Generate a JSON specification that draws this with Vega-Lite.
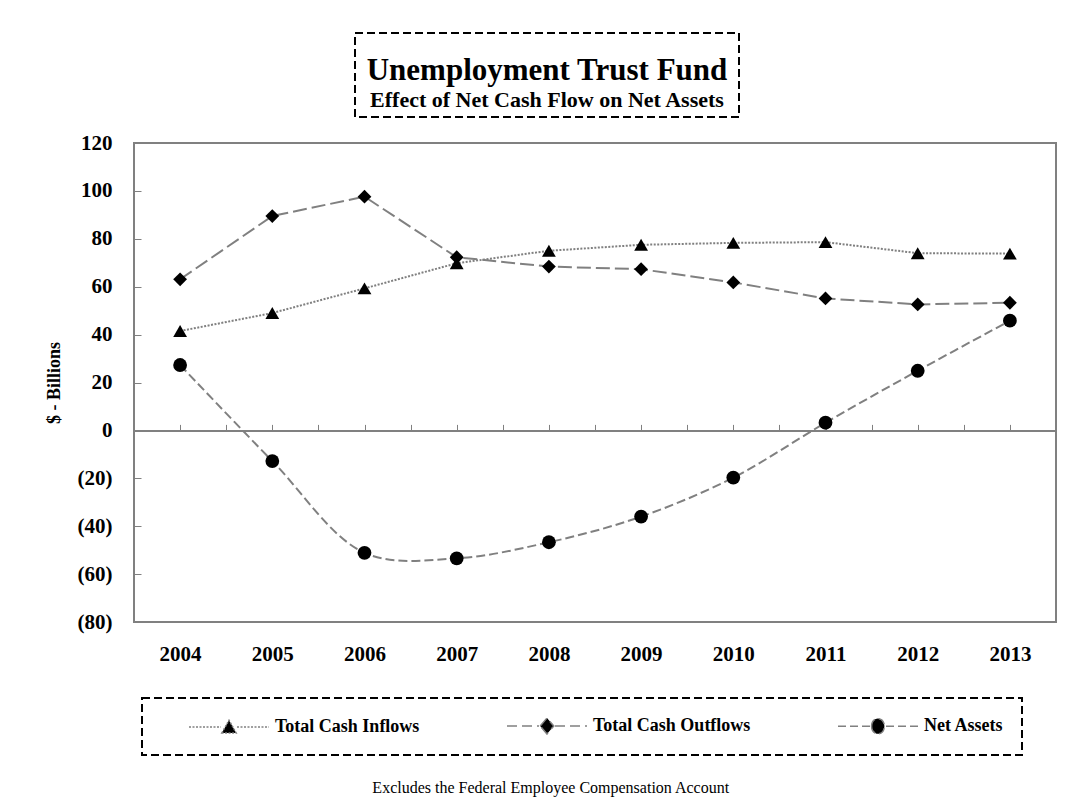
{
  "$schema": "https://vega.github.io/schema/vega-lite/v6.json",
  "padding": {"left": 44, "top": 32, "right": 5, "bottom": 4},
  "background": "white",
  "config": {"font": "Liberation Serif", "view": {"stroke": null}},
  "title": {"text": "Excludes the Federal Employee Compensation Account", "orient": "bottom", "anchor": "middle", "font": "Liberation Serif", "fontSize": 16, "fontWeight": "normal", "color": "black", "offset": 24},
  "spacing": 13,
  "vconcat": [
    {
      "spacing": 20,
      "hconcat": [
        {
          "width": 200,
          "height": 84,
          "view": {"stroke": null},
          "data": {"values": []},
          "mark": {"type": "text"},
          "encoding": {}
        },
        {
          "width": 384,
          "height": 84,
          "view": {"stroke": "black", "strokeWidth": 2, "strokeDash": [8, 4]},
          "data": {"values": [{"line": "Unemployment Trust Fund"}, {"line": "Effect of Net Cash Flow on Net Assets"}]},
          "mark": {"type": "text", "font": "Liberation Serif", "fontWeight": "bold", "color": "black", "baseline": "middle"},
          "encoding": {
            "text": {"field": "line", "type": "nominal"},
            "y": {"field": "line", "type": "nominal", "axis": null, "scale": {"type": "point", "padding": 0, "domain": ["Unemployment Trust Fund", "Effect of Net Cash Flow on Net Assets"], "range": [38, 67]}},
            "size": {"field": "line", "type": "ordinal", "legend": null, "scale": {"domain": ["Unemployment Trust Fund", "Effect of Net Cash Flow on Net Assets"], "range": [31, 22]}}
          }
        }
      ]
    },
    {
      "width": 922,
      "height": 479,
      "view": {"stroke": "#808080", "strokeWidth": 2},
      "data": {"values": [
        {"year": 2004, "series": "Total Cash Inflows", "value": 41.5},
        {"year": 2005, "series": "Total Cash Inflows", "value": 49},
        {"year": 2006, "series": "Total Cash Inflows", "value": 59.3},
        {"year": 2007, "series": "Total Cash Inflows", "value": 69.8},
        {"year": 2008, "series": "Total Cash Inflows", "value": 75},
        {"year": 2009, "series": "Total Cash Inflows", "value": 77.5},
        {"year": 2010, "series": "Total Cash Inflows", "value": 78.3},
        {"year": 2011, "series": "Total Cash Inflows", "value": 78.6},
        {"year": 2012, "series": "Total Cash Inflows", "value": 74},
        {"year": 2013, "series": "Total Cash Inflows", "value": 73.8},
        {"year": 2004, "series": "Total Cash Outflows", "value": 63.1},
        {"year": 2005, "series": "Total Cash Outflows", "value": 89.5},
        {"year": 2006, "series": "Total Cash Outflows", "value": 97.6},
        {"year": 2007, "series": "Total Cash Outflows", "value": 72.3},
        {"year": 2008, "series": "Total Cash Outflows", "value": 68.4},
        {"year": 2009, "series": "Total Cash Outflows", "value": 67.3},
        {"year": 2010, "series": "Total Cash Outflows", "value": 61.8},
        {"year": 2011, "series": "Total Cash Outflows", "value": 55.1},
        {"year": 2012, "series": "Total Cash Outflows", "value": 52.6},
        {"year": 2013, "series": "Total Cash Outflows", "value": 53.3},
        {"year": 2004, "series": "Net Assets", "value": 27.3},
        {"year": 2005, "series": "Net Assets", "value": -12.8},
        {"year": 2006, "series": "Net Assets", "value": -51.1},
        {"year": 2007, "series": "Net Assets", "value": -53.4},
        {"year": 2008, "series": "Net Assets", "value": -46.7},
        {"year": 2009, "series": "Net Assets", "value": -36},
        {"year": 2010, "series": "Net Assets", "value": -19.7},
        {"year": 2011, "series": "Net Assets", "value": 3.2},
        {"year": 2012, "series": "Net Assets", "value": 24.9},
        {"year": 2013, "series": "Net Assets", "value": 45.8}
      ]},
      "encoding": {
        "x": {"field": "year", "type": "quantitative", "scale": {"domain": [2003.5, 2013.5], "nice": false, "zero": false},
          "axis": {"title": null, "values": [2003.5, 2004, 2004.5, 2005, 2005.5, 2006, 2006.5, 2007, 2007.5, 2008, 2008.5, 2009, 2009.5, 2010, 2010.5, 2011, 2011.5, 2012, 2012.5, 2013, 2013.5],
            "labelExpr": "datum.value % 1 === 0 ? '' + datum.value : ''", "offset": -191.6, "domainColor": "#808080", "domainWidth": 2,
            "tickColor": "#808080", "tickSize": -6, "tickWidth": 1, "labelPadding": 219, "labelFont": "Liberation Serif", "labelFontSize": 21,
            "labelFontWeight": "bold", "labelColor": "black", "labelFlush": false, "labelOverlap": false, "labelBound": false, "grid": false, "labelBaseline": "top"}},
        "y": {"field": "value", "type": "quantitative", "scale": {"domain": [-80, 120], "nice": false, "zero": false},
          "axis": {"title": "$ - Billions", "values": [-80, -60, -40, -20, 0, 20, 40, 60, 80, 100, 120],
            "labelExpr": "datum.value < 0 ? '(' + abs(datum.value) + ')' : '' + datum.value", "domain": false, "grid": false,
            "tickColor": "#808080", "tickSize": -7, "tickWidth": 1, "labelPadding": 29, "labelFont": "Liberation Serif", "labelFontSize": 21,
            "labelFontWeight": "bold", "labelColor": "black", "labelFlush": false, "labelOverlap": false,
            "titleFont": "Liberation Serif", "titleFontSize": 18, "titleFontWeight": "bold", "titleColor": "black", "titlePadding": 14}}
      },
      "layer": [
        {
          "transform": [{"filter": "datum.series !== 'Net Assets'"}],
          "mark": {"type": "line", "color": "#808080", "strokeWidth": 2},
          "encoding": {"strokeDash": {"field": "series", "type": "nominal", "legend": null, "scale": {"domain": ["Total Cash Inflows", "Total Cash Outflows"], "range": [[2, 1.5], [14, 5]]}}}
        },
        {
          "transform": [{"filter": "datum.series === 'Net Assets'"}],
          "mark": {"type": "line", "color": "#808080", "strokeWidth": 2, "strokeDash": [9, 4], "interpolate": "catmull-rom"},
          "encoding": {}
        },
        {
          "mark": {"type": "point", "filled": true, "size": 190, "opacity": 1},
          "encoding": {
            "shape": {"field": "series", "type": "nominal", "legend": null,
              "scale": {"domain": ["Net Assets", "Total Cash Inflows", "Total Cash Outflows"], "range": ["circle", "triangle-up", "diamond"]}},
            "color": {"field": "series", "type": "nominal",
              "scale": {"domain": ["Total Cash Inflows", "Total Cash Outflows", "Net Assets"], "range": ["black", "black", "black"]},
              "legend": {
                "title": null, "orient": "none", "legendX": 8, "legendY": 665, "direction": "horizontal", "columns": 3, "gridAlign": "each",
                "columnPadding": 58, "padding": 18, "symbolSize": 6400, "symbolOffset": 28, "labelFont": "Liberation Serif", "labelFontSize": 18, "labelFontWeight": "bold",
                "labelColor": "black", "labelOffset": 5, "labelLimit": 400, "strokeColor": "black",
                "encoding": {
                  "legend": {"strokeDash": {"value": [8, 4]}, "strokeWidth": {"value": 2}},
                  "labels": {"y": {"value": 10}},
                  "symbols": {
                    "y": {"value": 10},
                    "shape": {"value": {"expr": "datum.value === 'Total Cash Inflows' ? 'M-1,0L-0.2,0M0.2,0L1,0M-0.18,0.15L0,-0.17L0.18,0.15Z' : datum.value === 'Total Cash Outflows' ? 'M-1,0L-0.2,0M0.2,0L1,0M-0.17,0L0,-0.2L0.17,0L0,0.2Z' : 'M-1,0L-0.2,0M0.2,0L1,0M-0.16,0A0.16,0.19,0,1,0,0.16,0A0.16,0.19,0,1,0,-0.16,0Z'"}},
                    "size": {"value": 6400},
                    "stroke": {"value": "#808080"},
                    "strokeWidth": {"value": 1.5},
                    "strokeDash": {"value": {"expr": "datum.value === 'Total Cash Inflows' ? [2, 1.5] : datum.value === 'Total Cash Outflows' ? [10, 5] : [8, 4]"}},
                    "opacity": {"value": 1}
                  }
                }
              }
            }
          }
        }
      ]
    }
  ]
}
